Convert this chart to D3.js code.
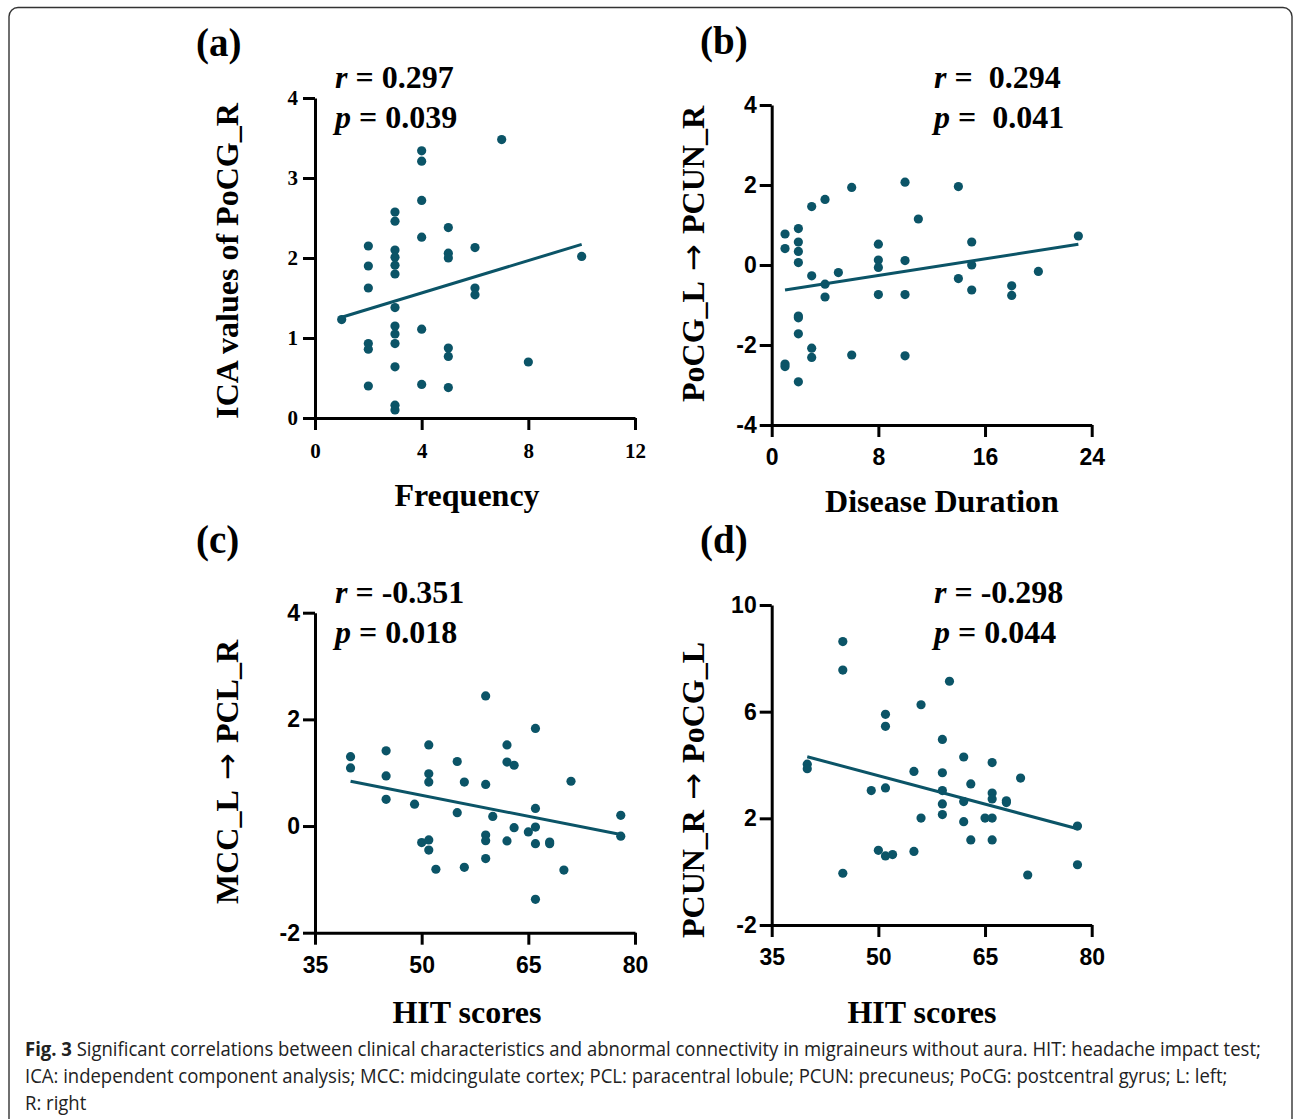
<!DOCTYPE html>
<html>
<head>
<meta charset="utf-8">
<script src="https://cdn.jsdelivr.net/npm/d3@7"></script>
<style>
  body { margin: 0; background: #fff; }
  svg { display: block; }
</style>
</head>
<body>
<svg id="chart" width="1293" height="1119"></svg>
<script>
// panel (a): frequency vs ICA values of PoCG_R
const freqX = [1, 2, 2, 2, 2, 2, 2, 3, 3, 3, 3, 3, 3, 3, 3, 3, 3, 3, 3, 3,
  4, 4, 4, 4, 4, 4, 5, 5, 5, 5, 5, 5, 6, 6, 6, 7, 8, 10];
const icaY = [1.23, 2.15, 1.9, 1.625, 0.93, 0.86, 0.40, 2.575, 2.46, 2.10, 2.01, 1.91, 1.80, 1.38, 1.15, 1.05, 0.93, 0.64, 0.16, 0.10,
  3.34, 3.21, 2.72, 2.26, 1.11, 0.42, 2.38, 2.06, 2.0, 0.875, 0.77, 0.38, 2.13, 1.625, 1.54, 3.48, 0.70, 2.02];

// panel (b): disease duration vs PoCG_L -> PCUN_R
const durationX = [1, 1, 1, 1, 2, 2, 2, 2, 2, 2, 2, 2, 3, 3, 3, 3, 4, 4, 4, 5, 6, 6,
  8, 8, 8, 8, 10, 10, 10, 10, 11, 14, 14, 15, 15, 15, 18, 18, 20, 23];
const pocgPcunY = [0.775, 0.41, -2.475, -2.54, 0.91, 0.575, 0.34, 0.06, -1.275, -1.32, -1.72, -2.92,
  1.46, -0.27, -2.08, -2.31, 1.64, -0.48, -0.8, -0.19, 1.94, -2.25,
  0.52, 0.125, -0.06, -0.74, 2.07, 0.11, -0.74, -2.27, 1.15, 1.96, -0.34, 0.575, 0, -0.625, -0.52, -0.76, -0.16, 0.725];

// panel (c): HIT scores vs MCC_L -> PCL_R
const hitC = [40, 40, 45, 45, 45, 49, 50, 51, 51, 51, 51, 51, 52, 55, 55, 56, 56, 59, 59, 59, 59, 59, 60,
  62, 62, 63, 62, 63, 65, 66, 66, 66, 66, 66, 68, 68, 70, 71, 78, 78];
const mccPclY = [1.3, 1.09, 1.41, 0.94, 0.5, 0.41, -0.31, 1.52, 0.98, 0.825, -0.26, -0.45, -0.81, 1.21, 0.25, 0.825, -0.775,
  2.44, 0.78, -0.17, -0.275, -0.61, 0.18, 1.52, 1.2, 1.14, -0.28, -0.03, -0.11, 1.83, 0.33, -0.02, -0.33, -1.375,
  -0.3, -0.33, -0.825, 0.84, 0.2, -0.19];

// panel (d): HIT scores vs PCUN_R -> PoCG_L
const hitD = [40, 40, 45, 45, 45, 49, 51, 51, 51, 50, 51, 52, 55, 55, 56, 56, 59, 59, 59, 59, 59, 60,
  62, 62, 62, 63, 63, 65, 66, 66, 66, 66, 66, 68, 68, 70, 71, 78, 78];
const pcunPocgY = [4.03, 3.86, 8.63, 7.56, -0.06, 3.04, 5.9, 5.45, 3.14, 0.8, 0.59, 0.64, 3.76, 0.76, 6.26, 2.01,
  4.96, 3.71, 3.04, 2.54, 2.14, 7.14, 4.3, 2.63, 1.875, 3.29, 1.19, 2.01, 4.09, 2.95, 2.725, 2.01, 1.19,
  2.66, 2.59, 3.51, -0.125, 1.71, 0.26];

// fitted lines: [intercept, slope]
const fitA = [1.159, 0.1011];
const fitB = [-0.677, 0.0519];
const fitC = [1.893, -0.02632];
const fitD = [7.152, -0.07105];

const panelLabels = ['(a)', '(b)', '(c)', '(d)'];
const rValues = ['0.297', ' 0.294', '-0.351', '-0.298'];
const pValues = ['0.039', ' 0.041', '0.018', '0.044'];
const xTitles = ['Frequency', 'Disease Duration', 'HIT scores', 'HIT scores'];
// y titles split around the arrow
const yTitles = [['ICA values of PoCG_R', ''], ['PoCG_L', 'PCUN_R'], ['MCC_L', 'PCL_R'], ['PCUN_R', 'PoCG_L']];
const xTicks = [[0, 4, 8, 12], [0, 8, 16, 24], [35, 50, 65, 80], [35, 50, 65, 80]];
const yTicks = [[0, 1, 2, 3, 4], [-4, -2, 0, 2, 4], [-2, 0, 2, 4], [-2, 2, 6, 10]];

const captionLines = [
  ['Fig. 3', ' Significant correlations between clinical characteristics and abnormal connectivity in migraineurs without aura. HIT: headache impact test;'],
  ['', 'ICA: independent component analysis; MCC: midcingulate cortex; PCL: paracentral lobule; PCUN: precuneus; PoCG: postcentral gyrus; L: left;'],
  ['', 'R: right']
];

const DOT = '#0b5467';
const SERIF = '"Liberation Serif", "Times New Roman", serif';
const SANS = '"Liberation Sans", Arial, sans-serif';

const svg = d3.select('#chart');

// figure frame
svg.append('rect')
  .attr('x', 9).attr('y', 7.5)
  .attr('width', 1283).attr('height', 1140)
  .attr('rx', 9)
  .attr('fill', 'none')
  .attr('stroke', '#333')
  .attr('stroke-width', 1.4);

const panels = [
  {x: freqX, y: icaY, fit: fitA, xd: [0, 12], yd: [0, 4], left: 315, right: 635, top: 98, bottom: 418,
    tickFont: SERIF, tickSize: 21, labelPos: [196, 56], statX: 335, statY: 88,
    xTitleX: 467, xTitleY: 506, yTitleX: 238, yTitleY: 261},
  {x: durationX, y: pocgPcunY, fit: fitB, xd: [0, 24], yd: [-4, 4], left: 771.7, right: 1091.7, top: 105, bottom: 425,
    tickFont: SANS, tickSize: 23, labelPos: [700, 54], statX: 934, statY: 88,
    xTitleX: 942, xTitleY: 512, yTitleX: 704, yTitleY: 254},
  {x: hitC, y: mccPclY, fit: fitC, xd: [35, 80], yd: [-2, 4], left: 315, right: 635, top: 612.7, bottom: 932.7,
    tickFont: SANS, tickSize: 23, labelPos: [196, 553], statX: 335, statY: 603,
    xTitleX: 467, xTitleY: 1023, yTitleX: 238, yTitleY: 772},
  {x: hitD, y: pcunPocgY, fit: fitD, xd: [35, 80], yd: [-2, 10], left: 771.7, right: 1091.7, top: 605, bottom: 925,
    tickFont: SANS, tickSize: 23, labelPos: [700, 553], statX: 934, statY: 603,
    xTitleX: 922, xTitleY: 1023, yTitleX: 704, yTitleY: 790}
];

panels.forEach((p, i) => {
  const xs = d3.scaleLinear().domain(p.xd).range([p.left, p.right]);
  const ys = d3.scaleLinear().domain(p.yd).range([p.bottom, p.top]);
  const g = svg.append('g');
  const fmt = d => String(d);

  // axes
  const xAxis = g.append('g')
    .attr('transform', 'translate(0,' + p.bottom + ')')
    .call(d3.axisBottom(xs).tickValues(xTicks[i]).tickFormat(fmt)
      .tickSize(12).tickSizeOuter(0).tickPadding(p.tickFont === SERIF ? 13 : 12));
  const yAxis = g.append('g')
    .attr('transform', 'translate(' + p.left + ',0)')
    .call(d3.axisLeft(ys).tickValues(yTicks[i]).tickFormat(fmt)
      .tickSize(12).tickSizeOuter(0).tickPadding(p.tickFont === SERIF ? 5 : 3));

  [xAxis, yAxis].forEach(ax => {
    ax.select('.domain').attr('stroke', '#000').attr('stroke-width', 3);
    ax.selectAll('.tick line').attr('stroke', '#000').attr('stroke-width', 3);
    ax.selectAll('.tick text')
      .attr('fill', '#000')
      .style('font-family', p.tickFont)
      .style('font-weight', 'bold')
      .style('font-size', p.tickSize + 'px');
  });

  // points
  const pts = p.x.map((v, k) => ({x: v, y: p.y[k]}));
  g.selectAll('circle')
    .data(pts)
    .enter()
    .append('circle')
    .attr('cx', d => xs(d.x))
    .attr('cy', d => ys(d.y))
    .attr('r', 4.6)
    .attr('fill', DOT);

  // fitted line
  const ext = d3.extent(p.x);
  const line = d3.line().x(d => xs(d)).y(d => ys(p.fit[0] + p.fit[1] * d));
  g.append('path')
    .attr('d', line(ext))
    .attr('fill', 'none')
    .attr('stroke', DOT)
    .attr('stroke-width', 3);

  // panel letter
  svg.append('text')
    .attr('x', p.labelPos[0]).attr('y', p.labelPos[1])
    .style('font-family', SERIF).style('font-weight', 'bold').style('font-size', '39px')
    .text(panelLabels[i]);

  // r and p
  [['r', rValues[i], p.statY], ['p', pValues[i], p.statY + 40]].forEach(s => {
    const t = svg.append('text')
      .attr('x', p.statX).attr('y', s[2])
      .attr('xml:space', 'preserve')
      .style('font-family', SERIF).style('font-weight', 'bold').style('font-size', '32px');
    t.append('tspan').style('font-style', 'italic').text(s[0]);
    t.append('tspan').text(' = ' + s[1]);
  });

  // x title
  svg.append('text')
    .attr('x', p.xTitleX)
    .attr('y', p.xTitleY)
    .attr('text-anchor', 'middle')
    .style('font-family', SERIF).style('font-weight', 'bold').style('font-size', '32px')
    .text(xTitles[i]);

  // y title
  const yt = svg.append('text')
    .attr('transform', 'translate(' + p.yTitleX + ',' + p.yTitleY + ') rotate(-90)')
    .attr('text-anchor', 'middle')
    .attr('xml:space', 'preserve')
    .style('font-family', SERIF).style('font-weight', 'bold').style('font-size', '32px');
  yt.append('tspan').text(yTitles[i][0]);
  if (yTitles[i][1]) {
    yt.append('tspan')
      .style('font-family', '"DejaVu Sans", sans-serif')
      .style('font-weight', 'normal')
      .text(' \u2192 ');
    yt.append('tspan').text(yTitles[i][1]);
  }
});

// caption: one horizontal squeeze for all lines, sized so line 1 spans the box
const cap = svg.append('g');
const capTexts = captionLines.map((ln, i) => {
  const t = cap.append('text')
    .attr('x', 0).attr('y', i * 27)
    .style('font-family', '"Open Sans", sans-serif')
    .style('font-size', '20px')
    .attr('fill', '#222');
  if (ln[0]) t.append('tspan').style('font-weight', 'bold').text(ln[0]);
  t.append('tspan').text(ln[1]);
  return t;
});
const firstLen = capTexts[0].node().getComputedTextLength();
const squeeze = firstLen > 0 ? 1237 / firstLen : 0.9;
cap.attr('transform', 'translate(25,1056) scale(' + squeeze + ',1)');
</script>
</body>
</html>
